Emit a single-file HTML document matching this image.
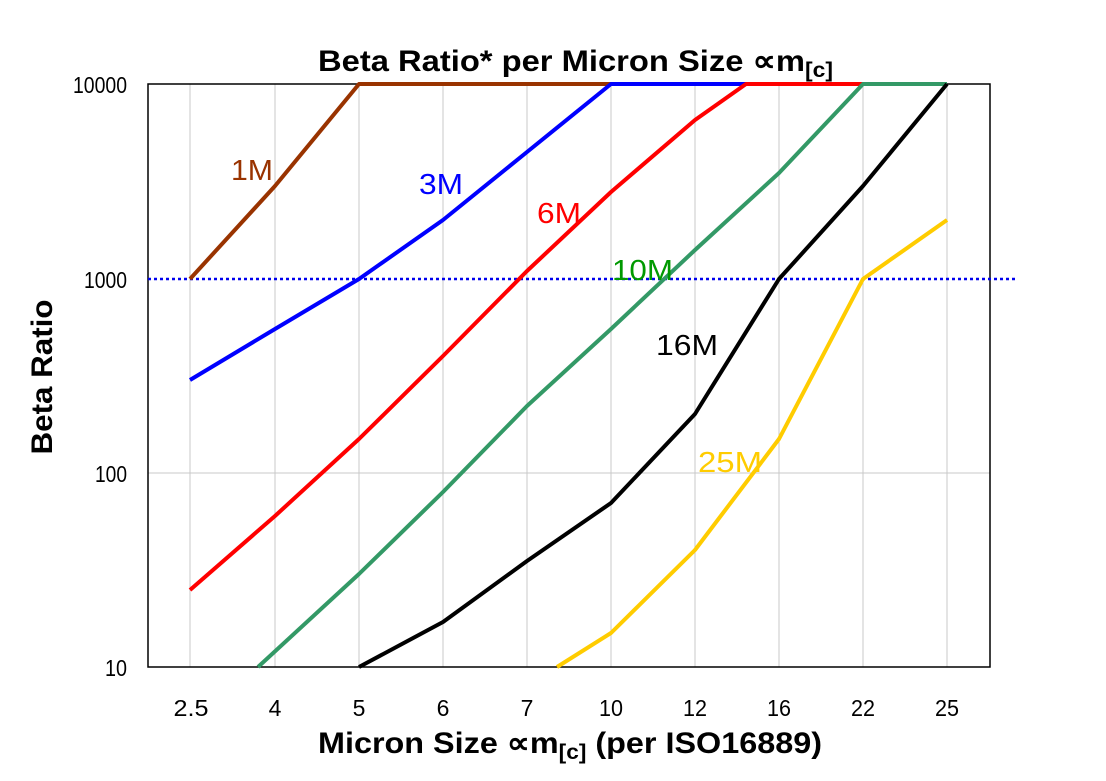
<!DOCTYPE html>
<html><head><meta charset="utf-8"><style>body{margin:0;background:#fff}</style></head><body>
<svg width="1106" height="776" xmlns="http://www.w3.org/2000/svg" font-family="Liberation Sans, Arial, sans-serif">
<rect width="1106" height="776" fill="#fff"/>
<g stroke="#c8c8c8" stroke-width="1">
<line x1="190" y1="84" x2="190" y2="667"/><line x1="275" y1="84" x2="275" y2="667"/><line x1="359" y1="84" x2="359" y2="667"/><line x1="443" y1="84" x2="443" y2="667"/><line x1="527" y1="84" x2="527" y2="667"/><line x1="611" y1="84" x2="611" y2="667"/><line x1="695" y1="84" x2="695" y2="667"/><line x1="779" y1="84" x2="779" y2="667"/><line x1="863" y1="84" x2="863" y2="667"/><line x1="947" y1="84" x2="947" y2="667"/>
<line x1="148" y1="473" x2="990" y2="473"/>
</g>
<rect x="148" y="84" width="842" height="583" fill="none" stroke="#000" stroke-width="1.5"/>
<line x1="148" y1="279" x2="1018" y2="279" stroke="#0000ee" stroke-width="2.5" stroke-dasharray="3,3"/>
<g fill="none" stroke-width="4" stroke-linejoin="round">
<polyline stroke="#993300" points="190,279 275,186 359,84 611,84"/>
<polyline stroke="#0000ff" points="190,380 275,329 359,279 443,220 527,152 611,84 947,84"/>
<polyline stroke="#ff0000" points="190,590 275,516 359,439 443,356 527,271 611,192 695,120 746,84 947,84"/>
<polyline stroke="#339966" points="258,667 359,574 443,492 527,406 611,329 695,250 779,173 863,84 947,84"/>
<polyline stroke="#000000" points="359,667 443,622 527,561 611,503 695,414 779,279 863,186 947,84"/>
<polyline stroke="#ffcc00" points="557,667 611,633 695,550 779,439 863,279 947,220"/>
</g>
<g font-size="29" lengthAdjust="spacingAndGlyphs">
<text x="231" y="180" fill="#993300" textLength="42" lengthAdjust="spacingAndGlyphs">1M</text>
<text x="419" y="194" fill="#0000ff" textLength="44" lengthAdjust="spacingAndGlyphs">3M</text>
<text x="537" y="223" fill="#ff0000" textLength="44" lengthAdjust="spacingAndGlyphs">6M</text>
<text x="612" y="280" fill="#009900" textLength="61" lengthAdjust="spacingAndGlyphs">10M</text>
<text x="656" y="355" fill="#000" textLength="62" lengthAdjust="spacingAndGlyphs">16M</text>
<text x="698" y="472" fill="#ffcc00" textLength="64" lengthAdjust="spacingAndGlyphs">25M</text>
</g>
<g font-size="23" text-anchor="end">
<text x="127" y="93" textLength="54" lengthAdjust="spacingAndGlyphs">10000</text><text x="127" y="288" textLength="43" lengthAdjust="spacingAndGlyphs">1000</text><text x="127" y="482" textLength="32" lengthAdjust="spacingAndGlyphs">100</text><text x="127" y="676" textLength="22" lengthAdjust="spacingAndGlyphs">10</text>
</g>
<g font-size="23" text-anchor="middle">
<text x="191" y="716" textLength="35" lengthAdjust="spacingAndGlyphs">2.5</text><text x="275" y="716">4</text><text x="359" y="716">5</text><text x="443" y="716">6</text><text x="527" y="716">7</text><text x="611" y="716" textLength="24" lengthAdjust="spacingAndGlyphs">10</text><text x="695" y="716" textLength="24" lengthAdjust="spacingAndGlyphs">12</text><text x="779" y="716" textLength="24" lengthAdjust="spacingAndGlyphs">16</text><text x="863" y="716" textLength="24" lengthAdjust="spacingAndGlyphs">22</text><text x="947" y="716" textLength="24" lengthAdjust="spacingAndGlyphs">25</text>
</g>
<text x="318" y="71" font-size="30" font-weight="bold" textLength="515" lengthAdjust="spacingAndGlyphs">Beta Ratio* per Micron Size ∝m<tspan font-size="21" dy="6">[c]</tspan></text>
<text x="318" y="753" font-size="30" font-weight="bold" textLength="504" lengthAdjust="spacingAndGlyphs">Micron Size ∝m<tspan font-size="21" dy="6">[c]</tspan><tspan dy="-6"> (per ISO16889)</tspan></text>
<text transform="translate(52,377) rotate(-90)" font-size="30" font-weight="bold" text-anchor="middle" textLength="155" lengthAdjust="spacingAndGlyphs">Beta Ratio</text>
</svg>
</body></html>
